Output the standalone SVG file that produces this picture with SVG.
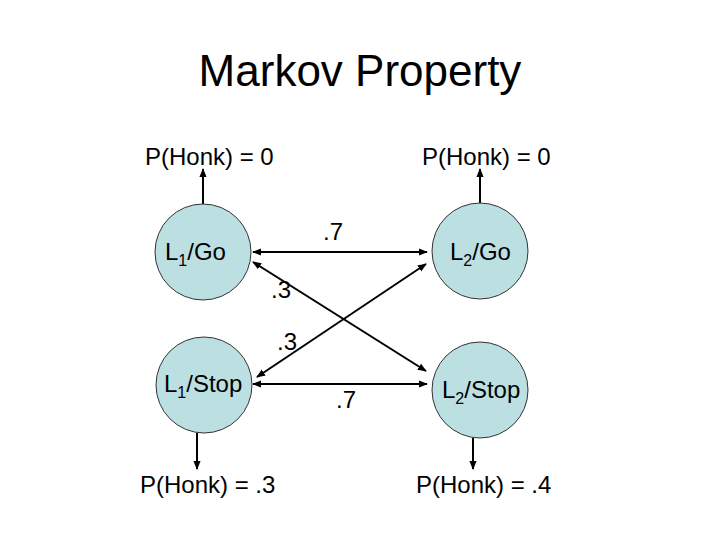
<svg xmlns="http://www.w3.org/2000/svg" width="720" height="540" viewBox="0 0 720 540">
<defs>
<marker id="ah" viewBox="0 0 10 10" refX="9" refY="5" markerWidth="4.5" markerHeight="4.5" orient="auto-start-reverse" markerUnits="strokeWidth">
<path d="M0,1 L10,5 L0,9 z" fill="#000"/>
</marker>
<style>
text{font-family:"Liberation Sans",Arial,sans-serif;fill:#000}
.node{fill:#bcdfe2;stroke:#333;stroke-width:1}
.lbl{font-size:24px}
.sub{font-size:16px}
.edge{stroke:#000;stroke-width:2;fill:none}
</style>
</defs>
<rect width="720" height="540" fill="#fff"/>
<text x="360" y="86" font-size="44" text-anchor="middle">Markov Property</text>
<g id="connectors">
<line class="edge" x1="203" y1="204" x2="203" y2="169" marker-end="url(#ah)"/>
<line class="edge" x1="480" y1="203" x2="480" y2="169" marker-end="url(#ah)"/>
<line class="edge" x1="197" y1="433" x2="197" y2="469" marker-end="url(#ah)"/>
<line class="edge" x1="473" y1="438" x2="473" y2="469" marker-end="url(#ah)"/>
<line class="edge" x1="253" y1="252" x2="427" y2="252" marker-start="url(#ah)" marker-end="url(#ah)"/>
<line class="edge" x1="253" y1="384" x2="427" y2="384" marker-start="url(#ah)" marker-end="url(#ah)"/>
<line class="edge" x1="253" y1="262" x2="426" y2="371" marker-start="url(#ah)" marker-end="url(#ah)"/>
<line class="edge" x1="257" y1="377" x2="426" y2="264" marker-start="url(#ah)" marker-end="url(#ah)"/>
</g>
<g id="L1Go">
<circle class="node" cx="203" cy="252" r="48"/>
<text class="lbl" x="165" y="260">L<tspan class="sub" dy="6">1</tspan><tspan dy="-6">/Go</tspan></text>
</g>
<g id="L2Go">
<circle class="node" cx="480" cy="251" r="48"/>
<text class="lbl" x="450" y="260">L<tspan class="sub" dy="6">2</tspan><tspan dy="-6">/Go</tspan></text>
</g>
<g id="L1Stop">
<circle class="node" cx="204" cy="385" r="48"/>
<text class="lbl" x="164" y="392">L<tspan class="sub" dy="6">1</tspan><tspan dy="-6">/Stop</tspan></text>
</g>
<g id="L2Stop">
<circle class="node" cx="480" cy="390" r="48"/>
<text class="lbl" x="442" y="398">L<tspan class="sub" dy="6">2</tspan><tspan dy="-6">/Stop</tspan></text>
</g>
<g id="labels">
<text class="lbl" x="145" y="165">P(Honk) = 0</text>
<text class="lbl" x="422" y="165">P(Honk) = 0</text>
<text class="lbl" x="140" y="493">P(Honk) = .3</text>
<text class="lbl" x="416" y="493">P(Honk) = .4</text>
<text class="lbl" x="323" y="240">.7</text>
<text class="lbl" x="271" y="298">.3</text>
<text class="lbl" x="277" y="350">.3</text>
<text class="lbl" x="336" y="408">.7</text>
</g>
</svg>
